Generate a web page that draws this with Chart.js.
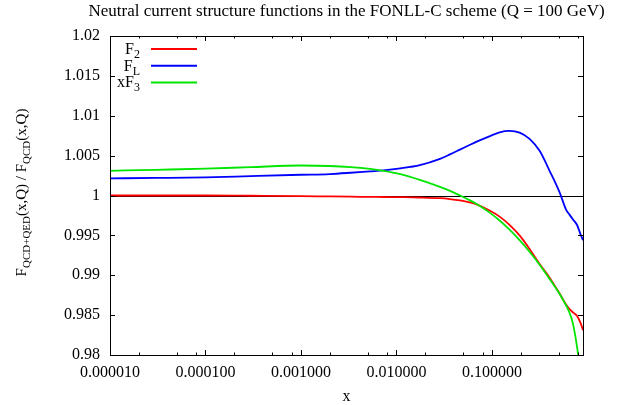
<!DOCTYPE html>
<html>
<head>
<meta charset="utf-8">
<script src="https://cdn.jsdelivr.net/npm/chart.js@4.4.0/dist/chart.umd.min.js"></script>
<style>
    html, body { margin: 0; padding: 0; background: #fff; }
</style>
</head>
<body>
<canvas id="sfChart" width="617" height="405"></canvas>
<script>

// x grid (log scale) shared by the three curves
const xValues = [0.00001, 0.00003, 0.0001, 0.0003, 0.001, 0.002, 0.0033, 0.0053, 0.0073, 0.011,
    0.0176, 0.0286, 0.0364, 0.0463, 0.0583, 0.0693, 0.0955, 0.1205, 0.153, 0.195,
    0.248, 0.316, 0.402, 0.512, 0.6, 0.65, 0.706, 0.78, 0.85, 0.9];

// ratios QCD+QED / QCD
const f2Values = [1.0000, 1.0000, 1.0000, 0.99997, 0.99993, 0.99988, 0.99985, 0.99983, 0.99981, 0.99979,
    0.99975, 0.99966, 0.99955, 0.99938, 0.99914, 0.99888, 0.99808, 0.99735, 0.99632, 0.9950,
    0.9933, 0.9914, 0.9897, 0.9877, 0.9863, 0.98575, 0.98535, 0.9849, 0.9840, 0.9831];

const flValues = [1.00215, 1.0022, 1.00227, 1.00243, 1.0026, 1.00269, 1.00285, 1.00303, 1.00315, 1.0034,
    1.00381, 1.0046, 1.00515, 1.00575, 1.00633, 1.00675, 1.00745, 1.00792, 1.0081, 1.00788,
    1.0071, 1.0056, 1.0031, 1.0004, 0.9982, 0.9976, 0.9970, 0.9963, 0.9951, 0.9944];

const xf3Values = [1.0031, 1.00322, 1.00336, 1.00356, 1.00376, 1.0037, 1.00356, 1.00333, 1.0031, 1.00268,
    1.00196, 1.00108, 1.00058, 1.0000, 0.99942, 0.99893, 0.99782, 0.99686, 0.99572, 0.99441,
    0.99295, 0.99132, 0.98954, 0.98765, 0.9862, 0.9853, 0.98394, 0.9810, 0.9775, 0.9745];

// axis ticks
const xTickValues = [0.00001, 0.0001, 0.001, 0.01, 0.1];
const xMinorFactors = [2, 5, 8];
const yTickValues = [0.98, 0.985, 0.99, 0.995, 1, 1.005, 1.01, 1.015, 1.02];
const refLevel = 1;

const titleText = 'Neutral current structure functions in the FONLL-C scheme (Q = 100 GeV)';
const legendLabels = [['F', '2'], ['F', 'L'], ['xF', '3']];
const yLabelParts = [['F', false], ['QCD+QED', true], ['(x,Q) / F', false], ['QCD', true], ['(x,Q)', false]];

const serif = '"Liberation Serif", "DejaVu Serif", serif';

/* Draws a string made of normal and subscript pieces
*/
const drawRich = (ctx, parts, x, y, align, size, subSize) => {
    const mainFont = size + 'px ' + serif;
    const subFont = subSize + 'px ' + serif;
    let total = 0;
    parts.forEach(p => {
        ctx.font = p[1] ? subFont : mainFont;
        total += ctx.measureText(p[0]).width;
    });
    let cx = x;
    if (align === 'right') cx = x - total;
    if (align === 'center') cx = x - total / 2;
    parts.forEach(p => {
        ctx.font = p[1] ? subFont : mainFont;
        ctx.fillText(p[0], cx, p[1] ? y + 4 : y);
        cx += ctx.measureText(p[0]).width;
    });
};

/* gnuplot-like frame, inside ticks, reference line, legend and labels
*/
const framePlugin = {
    id: 'frame',
    beforeDatasetsDraw: (chart) => {
        const ctx = chart.ctx;
        const a = chart.chartArea;
        const yp = Math.round(chart.scales.y.getPixelForValue(refLevel)) + 0.5;
        ctx.save();
        ctx.strokeStyle = '#000';
        ctx.lineWidth = 1;
        ctx.beginPath();
        ctx.moveTo(a.left, yp);
        ctx.lineTo(a.right, yp);
        ctx.stroke();
        ctx.restore();
    },
    afterDraw: (chart) => {
        const ctx = chart.ctx;
        const a = chart.chartArea;
        const xs = chart.scales.x;
        const ys = chart.scales.y;
        ctx.save();
        ctx.strokeStyle = '#000';
        ctx.fillStyle = '#000';
        ctx.lineWidth = 1;

        // frame
        ctx.strokeRect(Math.round(a.left) + 0.5, Math.round(a.top) + 0.5,
            Math.round(a.right - a.left), Math.round(a.bottom - a.top));

        // x ticks, bottom and top
        const xTick = (v, len) => {
            const px = Math.round(xs.getPixelForValue(v)) + 0.5;
            ctx.beginPath();
            ctx.moveTo(px, a.bottom);
            ctx.lineTo(px, a.bottom - len);
            ctx.moveTo(px, a.top);
            ctx.lineTo(px, a.top + len);
            ctx.stroke();
        };
        xTickValues.forEach(v => {
            xTick(v, 5);
            xMinorFactors.forEach(f => {
                if (v * f <= xs.max) xTick(v * f, 2.5);
            });
        });

        // y ticks, left and right
        yTickValues.forEach(v => {
            const py = Math.round(ys.getPixelForValue(v)) + 0.5;
            ctx.beginPath();
            ctx.moveTo(a.left, py);
            ctx.lineTo(a.left + 5, py);
            ctx.moveTo(a.right, py);
            ctx.lineTo(a.right - 5, py);
            ctx.stroke();
        });

        // title
        ctx.textBaseline = 'alphabetic';
        ctx.font = '17px ' + serif;
        ctx.textAlign = 'center';
        ctx.fillText(titleText, (a.left + a.right) / 2, 16);

        // x axis label
        ctx.font = '16px ' + serif;
        ctx.fillText('x', (a.left + a.right) / 2, 401);

        // legend
        ctx.textAlign = 'left';
        chart.data.datasets.forEach((ds, i) => {
            const ly = a.top + 13 + i * 16.7;
            const lab = legendLabels[i].map((t, j) => [t, j === 1]);
            drawRich(ctx, lab, 140, ly + 5, 'right', 16, 12);
            ctx.strokeStyle = ds.borderColor;
            ctx.lineWidth = 2;
            ctx.beginPath();
            ctx.moveTo(151, ly);
            ctx.lineTo(197, ly);
            ctx.stroke();
        });

        // y axis label
        ctx.translate(26, (a.top + a.bottom) / 2 - 3);
        ctx.rotate(-Math.PI / 2);
        drawRich(ctx, yLabelParts, 0, 0, 'center', 15, 11);
        ctx.restore();
    }
};

/* Builds the structure function ratio chart
*/
const buildChart = () => {

    const makeSet = (label, values, color, order) => ({
        label: label,
        data: xValues.map((x, i) => ({ x: x, y: values[i] })),
        borderColor: color,
        borderWidth: 1.8,
        pointRadius: 0,
        fill: false,
        cubicInterpolationMode: 'monotone',
        order: order
    });

    const data = {
        datasets: [
            makeSet('F2', f2Values, '#ff0000', 2),
            makeSet('FL', flValues, '#0000ff', 1),
            makeSet('xF3', xf3Values, '#00e600', 0)
        ]
    };

    const tickFont = { family: serif, size: 16 };

    const config = {
        type: 'line',
        data: data,
        options: {
            responsive: false,
            animation: false,
            devicePixelRatio: 1,
            layout: { padding: { top: 36, right: 34, left: 0, bottom: 0 } },
            plugins: {
                legend: { display: false },
                tooltip: { enabled: false }
            },
            scales: {
                x: {
                    type: 'logarithmic',
                    min: 0.00001,
                    max: 0.9,
                    grid: { display: false, drawTicks: false },
                    border: { display: false },
                    afterBuildTicks: (scale) => {
                        scale.ticks = xTickValues.map(v => ({ value: v }));
                    },
                    afterFit: (scale) => { scale.height = 50; },
                    ticks: {
                        autoSkip: false,
                        maxRotation: 0,
                        padding: 8,
                        color: '#000',
                        font: tickFont,
                        callback: (v) => Number(v).toFixed(6)
                    }
                },
                y: {
                    type: 'linear',
                    min: 0.98,
                    max: 1.02,
                    grid: { display: false, drawTicks: false },
                    border: { display: false },
                    afterBuildTicks: (scale) => {
                        scale.ticks = yTickValues.map(v => ({ value: v }));
                    },
                    afterFit: (scale) => { scale.width = 110; },
                    ticks: {
                        padding: 10,
                        color: '#000',
                        font: tickFont,
                        callback: (v) => String(parseFloat(Number(v).toFixed(3)))
                    }
                }
            }
        },
        plugins: [framePlugin]
    };

    const ctx = document.getElementById('sfChart').getContext('2d');
    const sfChart = new Chart(ctx, config);
};

document.addEventListener("DOMContentLoaded", () => {
    buildChart();
});
</script>
</body>
</html>
